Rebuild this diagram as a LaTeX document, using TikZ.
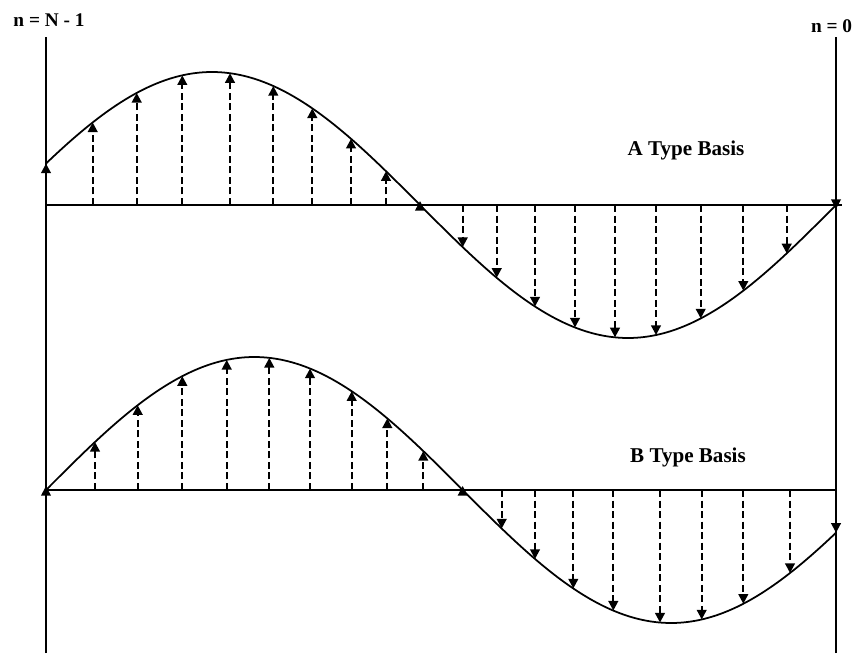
\documentclass[tikz,border=0pt]{standalone}
\usepackage{fontspec}
\setmainfont{Liberation Serif}
\usetikzlibrary{arrows.meta}
\begin{document}
\begin{tikzpicture}[x=0.02cm, y=0.02cm, >={Triangle[length=5.5pt,width=5.5pt]}, line width=1pt,
    sample/.style={->, dashed, line width=1.2pt, dash pattern=on 4pt off 2pt},
    endtip/.style={->},
    endlabel/.style={inner sep=0pt, font=\fontsize{11}{13}\selectfont\bfseries},
    typelabel/.style={inner sep=0pt, font=\fontsize{12}{14}\selectfont\bfseries},
    declare function={fA(\x)=448-133*sin((\x-420)*0.43269);
                      fB(\x)=163-133*sin((\x-462.7)*0.43197);}]
    \useasboundingbox (0,0) rectangle (854,653);

    % Outer lines n = N-1 and n = 0
    \draw (46,0) -- (46,616);
    \draw (836,0) -- (836,616);
    \node[endlabel] (nfirst) at (49,633) {n = N - 1};
    \node[endlabel, anchor=east] (nlast) at (853,627) {n = 0};

    % A Type Basis
    \draw (46,448) -- (842,448);
    \draw[smooth, samples=120, domain=46:836] plot (\x, {fA(\x)});
    \foreach \x in {46, 92.7, 136.7, 182.3, 230, 273.3, 312.3, 351, 386,
                    462.7, 496.7, 535, 575, 615, 656, 700.7, 743.3, 786.7}
        \draw[sample] (\x,448) -- (\x,{fA(\x)});
    \draw[endtip] (420,444) -- (420,452);
    \draw[endtip] (836,452) -- (836,444);
    \node[typelabel] (typeA) at (686,503) {A Type Basis};

    % B Type Basis
    \draw (46,163) -- (836,163);
    \draw[smooth, samples=120, domain=46:836] plot (\x, {fB(\x)});
    \foreach \x in {95, 137.7, 182.3, 226.7, 269.3, 310, 351.7, 387.3, 423.3,
                    501.7, 535, 573.3, 613.3, 660, 701.7, 743.3, 790, 836}
        \draw[sample] (\x,163) -- (\x,{fB(\x)});
    \draw[endtip] (46,159) -- (46,167);
    \draw[endtip] (462.7,159) -- (462.7,167);
    \node[typelabel] (typeB) at (688,196) {B Type Basis};
\end{tikzpicture}
\end{document}
